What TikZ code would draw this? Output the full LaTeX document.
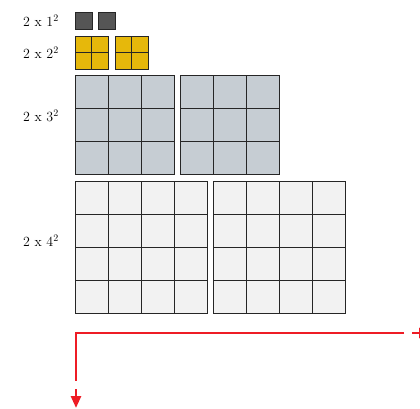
\documentclass[tikz,border=0pt]{standalone}
\usepackage{tikz}
\usetikzlibrary{arrows.meta}

\definecolor{cubedark}{HTML}{555555}
\definecolor{cubegold}{HTML}{E6B80B}
\definecolor{cubeblue}{HTML}{C6CDD3}
\definecolor{cubelight}{HTML}{F2F2F2}
\definecolor{cubeline}{HTML}{262626}
\definecolor{axisred}{HTML}{EE1C25}

% n x n block of cells: x, y (top left), n, cell size, fill colour
\newcommand{\sqblock}[5]{%
  \foreach \i in {1,...,#3} {
    \foreach \j in {1,...,#3} {
      \draw[cellbox, fill=#5]
        ({#1+(\i-1)*#4}, {#2+(\j-1)*#4}) rectangle ++(#4, #4);
    }
  }
}

\begin{document}
\begin{tikzpicture}[x=1pt, y=-1pt,
    cellbox/.style={draw=cubeline, line width=0.9pt},
    rowlabel/.style={anchor=east, inner sep=0pt, font=\fontsize{14}{16}\selectfont},
    redaxis/.style={draw=axisred, line width=2.6pt},
    redtip/.style={axisred, line width=2.6pt, -{Triangle[width=10pt, length=12pt]}}]
    \clip (0,0) rectangle (420,409);
    \useasboundingbox (0,0) rectangle (420,409);

    % Row labels
    \node[rowlabel] (lblone)   at (59, 21)  {2 x 1$^2$};
    \node[rowlabel] (lbltwo)   at (59, 53)  {2 x 2$^2$};
    \node[rowlabel] (lblthree) at (59, 116) {2 x 3$^2$};
    \node[rowlabel] (lblfour)  at (59, 241) {2 x 4$^2$};

    % 2 x 1^2
    \sqblock{75}{12}{1}{17}{cubedark}
    \sqblock{98}{12}{1}{17}{cubedark}

    % 2 x 2^2
    \sqblock{75}{36}{2}{16.5}{cubegold}
    \sqblock{115}{36}{2}{16.5}{cubegold}

    % 2 x 3^2
    \sqblock{75}{75}{3}{33}{cubeblue}
    \sqblock{180}{75}{3}{33}{cubeblue}

    % 2 x 4^2
    \sqblock{75}{181}{4}{33}{cubelight}
    \sqblock{213}{181}{4}{33}{cubelight}

    % Axes
    \coordinate (corner) at (76, 333);
    \coordinate (xend)   at (404, 333);
    \coordinate (yend)   at (76, 381);
    \coordinate (xtipa)  at (412, 333);
    \coordinate (xtipb)  at (431, 333);
    \coordinate (ytipa)  at (76, 389);
    \coordinate (ytipb)  at (76, 408);

    \draw[redaxis] (xend) -- (corner) -- (yend);
    \draw[redtip] (xtipa) -- (xtipb);
    \draw[redtip] (ytipa) -- (ytipb);
\end{tikzpicture}
\end{document}
